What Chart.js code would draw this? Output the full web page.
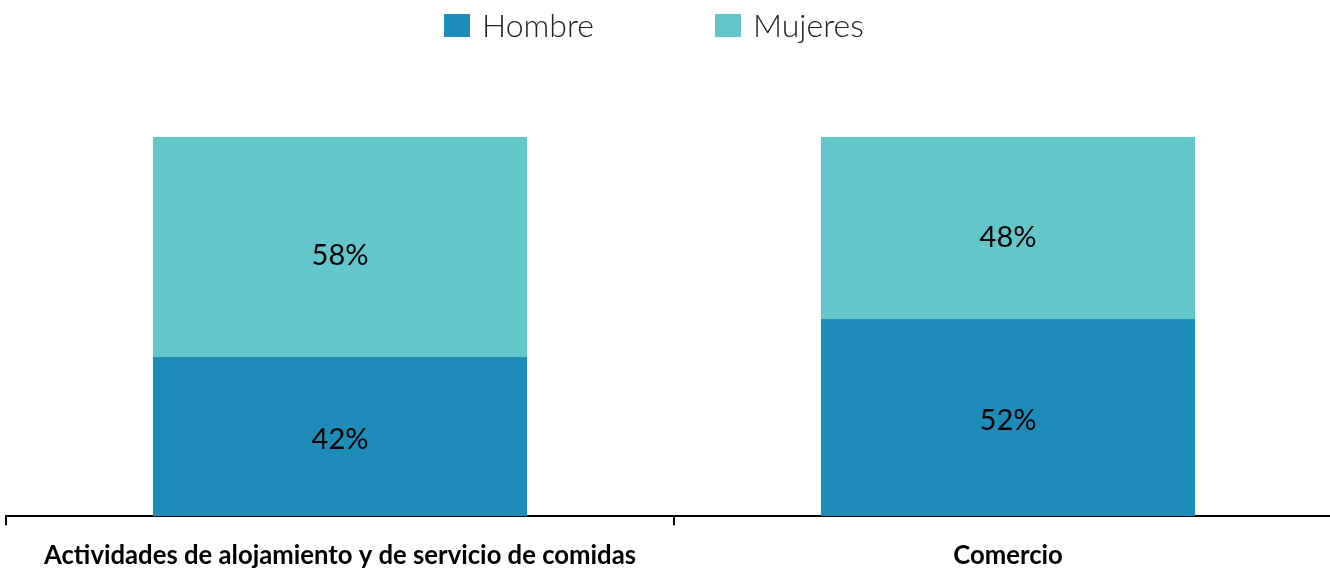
<!DOCTYPE html>
<html>
<head>
<meta charset="utf-8">
<script src="https://cdn.jsdelivr.net/npm/chart.js@4.4.0/dist/chart.umd.min.js"></script>
<style>
  html, body { margin: 0; padding: 0; background: #fff; overflow: hidden; }
  #wrap { width: 1345px; height: 586px; position: relative; }
</style>
</head>
<body>
<div id="wrap"><canvas id="myChart"></canvas></div>
<script>
  const categories = ['Actividades de alojamiento y de servicio de comidas', 'Comercio']; // X-axis labels
  const hombre = [42, 52];   // % men
  const mujeres = [58, 48];  // % women
  const seriesNames = ['Hombre', 'Mujeres'];
  const seriesColors = ['#1D8CB8', '#62C6CB'];

  // draws "NN%" inside each bar segment (original sits them a bit low)
  const barLabels = {
    id: 'barLabels',
    afterDatasetsDraw(chart) {
      const ctx = chart.ctx;
      const bottom = chart.chartArea.bottom;
      ctx.save();
      ctx.font = '29px Lato';
      ctx.fillStyle = '#000';
      ctx.textAlign = 'center';
      ctx.textBaseline = 'middle';
      chart.data.datasets.forEach((ds, i) => {
        chart.getDatasetMeta(i).data.forEach((bar, j) => {
          const mid = (bar.y + bar.base) / 2;
          const y = mid + 0.033 * (bottom - mid);
          ctx.fillText(ds.data[j] + '%', bar.x, y);
        });
      });
      ctx.restore();
    }
  };

  // legend drawn by hand so it sits where the original one is
  const legendX = [444, 715];
  const topLegend = {
    id: 'topLegend',
    afterDraw(chart) {
      const ctx = chart.ctx;
      ctx.save();
      ctx.font = '300 32px Lato';
      ctx.textBaseline = 'alphabetic';
      chart.data.datasets.forEach((ds, i) => {
        ctx.fillStyle = ds.backgroundColor;
        ctx.fillRect(legendX[i], 14, 26, 23);
        ctx.fillStyle = '#222';
        ctx.fillText(ds.label, legendX[i] + 38, 37);
      });
      ctx.restore();
    }
  };

  const ctx = document.getElementById('myChart').getContext('2d');

  const myChart = new Chart(ctx, {
    type: 'bar',
    data: {
      labels: categories,
      datasets: [{
        label: seriesNames[0],
        data: hombre,
        backgroundColor: seriesColors[0]
      }, {
        label: seriesNames[1],
        data: mujeres,
        backgroundColor: seriesColors[1]
      }]
    },
    options: {
      responsive: true,
      maintainAspectRatio: false,
      animation: false,
      layout: {
        padding: { top: 137, left: 6, right: 3, bottom: 0 }
      },
      categoryPercentage: 1,
      barPercentage: 0.56,
      plugins: {
        legend: { display: false },
        tooltip: { enabled: false }
      },
      scales: {
        x: {
          stacked: true,
          grid: {
            drawOnChartArea: false,
            drawTicks: true,
            tickLength: 9,
            color: '#000',
            lineWidth: 2
          },
          border: { display: true, color: '#000', width: 2 },
          ticks: {
            color: '#000',
            padding: 15,
            maxRotation: 0,
            font: { family: 'Lato', size: 25.7, weight: 'bold' }
          }
        },
        y: {
          stacked: true,
          display: false,
          min: 0,
          max: 100
        }
      }
    },
    plugins: [barLabels, topLegend]
  });
</script>
</body>
</html>
